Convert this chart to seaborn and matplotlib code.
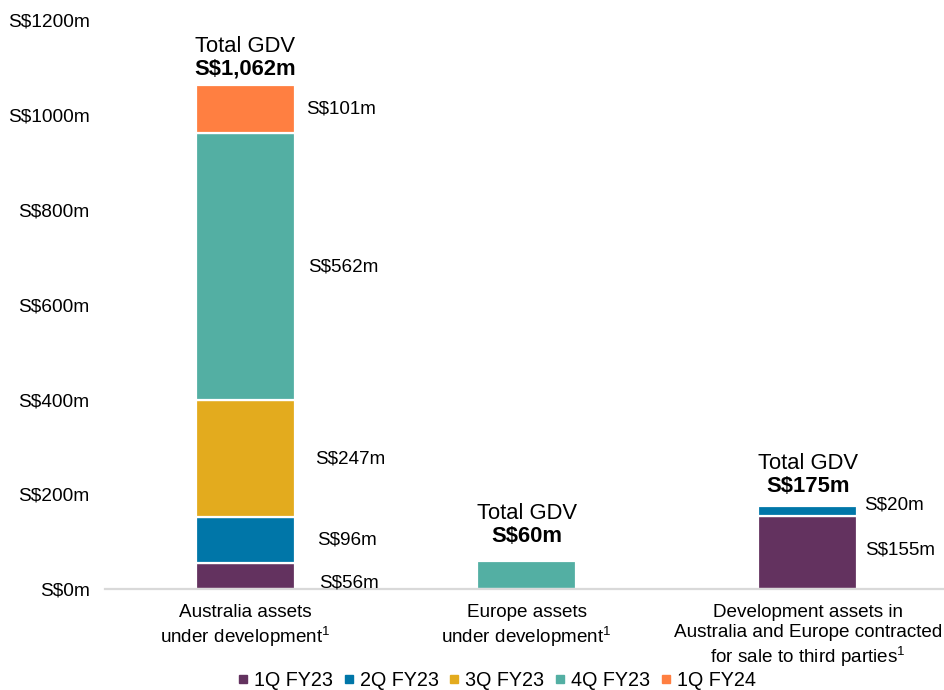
import matplotlib
matplotlib.use("Agg")
import matplotlib.pyplot as plt
from matplotlib.lines import Line2D
import numpy as np
import pandas as pd
import seaborn as sns

# --- data -------------------------------------------------------------
categories = [
    "Australia assets\nunder development$^{1}$",
    "Europe assets\nunder development$^{1}$",
    "Development assets in\nAustralia and Europe contracted\nfor sale to third parties$^{1}$",
]
series_names = ["1Q FY23", "2Q FY23", "3Q FY23", "4Q FY23", "1Q FY24"]
q1_fy23 = [56, 0, 155]
q2_fy23 = [96, 0, 20]
q3_fy23 = [247, 0, 0]
q4_fy23 = [562, 60, 0]
q1_fy24 = [101, 0, 0]
totals = [1062, 60, 175]
y_ticks = [0, 200, 400, 600, 800, 1000, 1200]

# --- styling ------------------------------------------------------------
colors = ["#63325F", "#0076A8", "#E3AB1E", "#53AFA3", "#FF7F41"]
sns.set_style("white")
plt.rcParams["font.family"] = ["Liberation Sans", "DejaVu Sans"]
plt.rcParams["text.color"] = "black"
plt.rcParams["xtick.color"] = "black"
plt.rcParams["ytick.color"] = "black"
plt.rcParams["mathtext.fontset"] = "custom"
plt.rcParams["mathtext.rm"] = "Liberation Sans"
plt.rcParams["mathtext.it"] = "Liberation Sans"
plt.rcParams["mathtext.default"] = "rm"

fig = plt.figure(figsize=(9.44, 6.9), dpi=100)
ax = fig.add_axes([0.111, 0.146, 0.889, 0.825])

series = [q1_fy23, q2_fy23, q3_fy23, q4_fy23, q1_fy24]
bottoms = np.zeros(len(categories))
bar_width = 0.35
segments = []  # (category index, bottom, value) for labels
for name, vals, col in zip(series_names, series, colors):
    vals = np.asarray(vals, dtype=float)
    keep = vals > 0
    if keep.any():
        df = pd.DataFrame({"cat": np.array(categories)[keep], "val": vals[keep]})
        sns.barplot(data=df, x="cat", y="val", order=categories, color=col,
                    width=bar_width, bottom=bottoms[keep], edgecolor="white",
                    linewidth=1.6, errorbar=None, saturation=1, ax=ax)
        for i in np.where(keep)[0]:
            segments.append((i, bottoms[i], vals[i]))
    bottoms = bottoms + vals

ax.set_xlim(-0.5, 2.485)
ax.set_ylim(0, 1200)
ax.set_yticks(y_ticks)
ax.set_yticklabels([f"S${v}m" for v in y_ticks], fontsize=13.8)
ax.set_xlabel("")
ax.set_ylabel("")
ax.tick_params(axis="y", length=0, pad=11)
ax.tick_params(axis="x", length=0, pad=10.5)
for lab in ax.get_xticklabels():
    lab.set_fontsize(13.6)
    lab.set_linespacing(1.22)
for side in ["left", "right", "top"]:
    ax.spines[side].set_visible(False)
ax.spines["bottom"].set_color("#D9D9D9")
ax.spines["bottom"].set_linewidth(1.6)

# segment value labels, placed to the right of each bar
label_nudges = {  # (dx px from bar edge, dy px)
    (0, 56): (25, -7), (0, 96): (23, 0), (0, 247): (21, 0),
    (0, 562): (14, 0), (0, 101): (12, 0),
    (2, 155): (8, 2), (2, 20): (7, 6),
}
for i, b, v in segments:
    if i == 1:
        continue
    dx, dy = label_nudges.get((i, int(v)), (10, 0))
    ax.annotate(f"S${int(v)}m", xy=(i + bar_width / 2, b + v / 2),
                xytext=(dx * 0.72, dy * 0.72), textcoords="offset points",
                ha="left", va="center", fontsize=13.6, annotation_clip=False)

# totals above each bar
total_offsets = [16, 24, 20]  # px above bar top
for i, (t, off) in enumerate(zip(totals, total_offsets)):
    ax.annotate(f"S${t:,}m", xy=(i, t), xytext=(0, off * 0.72),
                textcoords="offset points", ha="center", va="center",
                fontsize=15.8, fontweight="bold", annotation_clip=False)
    ax.annotate("Total GDV", xy=(i, t), xytext=(0, (off + 23) * 0.72),
                textcoords="offset points", ha="center", va="center",
                fontsize=15.8, annotation_clip=False)

handles = [Line2D([0], [0], marker="s", linestyle="none", markersize=5.5,
                  markerfacecolor=c, markeredgecolor=c) for c in colors]
fig.legend(handles, series_names, loc="center", bbox_to_anchor=(0.527, 0.014),
           ncol=5, frameon=False, fontsize=14.2, handlelength=0.4,
           handletextpad=0.35, columnspacing=0.6, borderaxespad=0)

fig.savefig("out.png", dpi=100)
